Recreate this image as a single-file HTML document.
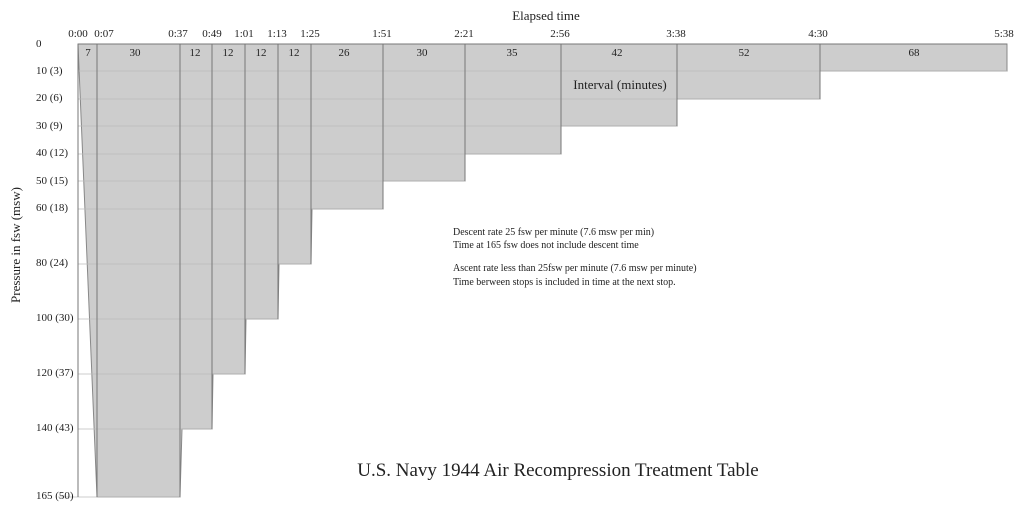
<!DOCTYPE html><html><head><style>body{margin:0;background:#fff}svg{display:block}text{font-family:"Liberation Serif",serif;fill:#222}</style></head><body>
<svg width="1024" height="511" viewBox="0 0 1024 511">
<polygon points="78,44 97,497 180,497 182,429 212,429 213,374 245,374 246,319 278,319 279,264 311,264 312,209 383,209 383,181 465,181 465,154 561,154 561,126 677,126 677,99 820,99 820,71 1007,71 1007,44" fill="#cdcdcd" stroke="#888" stroke-width="1"/>
<g stroke="#bbb" stroke-width="0.8">
<line x1="78" y1="71" x2="1007" y2="71"/><line x1="78" y1="99" x2="820" y2="99"/><line x1="78" y1="126" x2="677" y2="126"/><line x1="78" y1="154" x2="561" y2="154"/><line x1="78" y1="181" x2="465" y2="181"/><line x1="78" y1="209" x2="383" y2="209"/><line x1="78" y1="264" x2="311" y2="264"/><line x1="78" y1="319" x2="278" y2="319"/><line x1="78" y1="374" x2="245" y2="374"/><line x1="78" y1="429" x2="212" y2="429"/><line x1="58" y1="497" x2="180" y2="497"/>
</g>
<g stroke="#777" stroke-width="1">
<line x1="78" y1="44" x2="78" y2="497"/><line x1="97" y1="44" x2="97" y2="497"/><line x1="180" y1="44" x2="180" y2="497"/><line x1="212" y1="44" x2="212" y2="429"/><line x1="245" y1="44" x2="245" y2="374"/><line x1="278" y1="44" x2="278" y2="319"/><line x1="311" y1="44" x2="311" y2="264"/><line x1="383" y1="44" x2="383" y2="209"/><line x1="465" y1="44" x2="465" y2="181"/><line x1="561" y1="44" x2="561" y2="154"/><line x1="677" y1="44" x2="677" y2="126"/><line x1="820" y1="44" x2="820" y2="99"/>
<line x1="78" y1="44" x2="1007" y2="44"/>
</g>
<g font-size="11" text-anchor="middle">
<text x="78" y="37">0:00</text><text x="104" y="37">0:07</text><text x="178" y="37">0:37</text><text x="212" y="37">0:49</text><text x="244" y="37">1:01</text><text x="277" y="37">1:13</text><text x="310" y="37">1:25</text><text x="382" y="37">1:51</text><text x="464" y="37">2:21</text><text x="560" y="37">2:56</text><text x="676" y="37">3:38</text><text x="818" y="37">4:30</text><text x="1004" y="37">5:38</text>
<text x="88" y="56">7</text><text x="135" y="56">30</text><text x="195" y="56">12</text><text x="228" y="56">12</text><text x="261" y="56">12</text><text x="294" y="56">12</text><text x="344" y="56">26</text><text x="422" y="56">30</text><text x="512" y="56">35</text><text x="617" y="56">42</text><text x="744" y="56">52</text><text x="914" y="56">68</text>
</g>
<text x="546" y="20" font-size="13" text-anchor="middle">Elapsed time</text>
<text x="620" y="89" font-size="13" text-anchor="middle">Interval (minutes)</text>
<g font-size="11">
<text x="36" y="47">0</text><text x="36" y="74">10 (3)</text><text x="36" y="101">20 (6)</text><text x="36" y="129">30 (9)</text><text x="36" y="156">40 (12)</text><text x="36" y="184">50 (15)</text><text x="36" y="211">60 (18)</text><text x="36" y="266">80 (24)</text><text x="36" y="321">100 (30)</text><text x="36" y="376">120 (37)</text><text x="36" y="431">140 (43)</text><text x="36" y="499">165 (50)</text>
</g>
<text transform="translate(20,245) rotate(-90)" font-size="13" text-anchor="middle">Pressure in fsw (msw)</text>
<g font-size="10">
<text x="453" y="235">Descent rate 25 fsw per minute (7.6 msw per min)</text>
<text x="453" y="248">Time at 165 fsw does not include descent time</text>
<text x="453" y="271">Ascent rate less than 25fsw per minute (7.6 msw per minute)</text>
<text x="453" y="285">Time berween stops is included in time at the next stop.</text>
</g>
<text x="558" y="476" font-size="19" text-anchor="middle">U.S. Navy 1944 Air Recompression Treatment Table</text>
</svg></body></html>
